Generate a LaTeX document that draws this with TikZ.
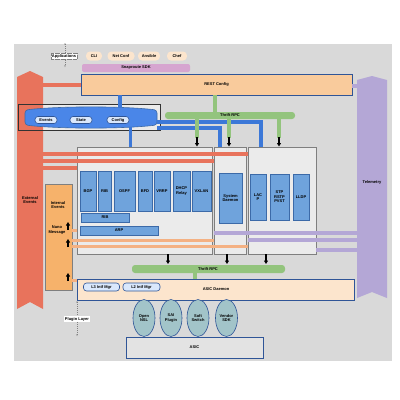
\documentclass[tikz,border=0pt]{standalone}
\usepackage{fontspec}
\setmainfont{Liberation Sans}
\usetikzlibrary{arrows.meta,calc,shapes.geometric}
\definecolor{bgc}{HTML}{D9D9D9}
\definecolor{lbox}{HTML}{EBEBEB}
\definecolor{gbord}{HTML}{7F7F7F}
\definecolor{redc}{HTML}{E8735C}
\definecolor{purc}{HTML}{B4A7D6}
\definecolor{oranc}{HTML}{F6B26B}
\definecolor{oranl}{HTML}{F4B183}
\definecolor{peach}{HTML}{F9CB9C}
\definecolor{paleor}{HTML}{FCE5CD}
\definecolor{pinkc}{HTML}{D6A5D0}
\definecolor{greenc}{HTML}{93C47D}
\definecolor{blkfill}{HTML}{6FA3DC}
\definecolor{blkbord}{HTML}{3C6AA8}
\definecolor{bluel}{HTML}{3C78D8}
\definecolor{blueshape}{HTML}{4A86E8}
\definecolor{dblue}{HTML}{2F5597}
\definecolor{tealc}{HTML}{A2C4C9}
\definecolor{asicc}{HTML}{E3E3E3}
\definecolor{pillb}{HTML}{DAE8FC}
\begin{document}
\begin{tikzpicture}[x=1pt,y=-1pt,
  font=\fontsize{4}{4.6}\selectfont\bfseries,
  every node/.style={inner sep=0pt,outer sep=0pt,align=center},
  bx/.style={anchor=north west},
  grpbox/.style={bx,draw=gbord,fill=lbox,line width=0.6pt},
  blk/.style={bx,draw=blkbord,fill=blkfill,line width=0.5pt},
  toppill/.style={fill=paleor,rounded corners=4pt,minimum height=9},
  innerpill/.style={draw=dblue,fill=pillb,rounded corners=3pt,minimum height=7,line width=0.6pt},
  gbar/.style={bx,fill=greenc,rounded corners=3pt},
  redline/.style={draw=redc,line width=3.5pt},
  purline/.style={draw=purc,line width=4pt},
  orline/.style={draw=oranl,line width=3pt},
  blueline/.style={draw=bluel,line width=3.5pt},
  greenline/.style={draw=greenc,line width=3.5pt},
  blkarrow/.style={draw=black,line width=1.1pt,-{Triangle[length=3.5pt,width=4pt]}},
  dimarrow/.style={draw=gray,dashed,dash pattern=on 1pt off 1pt,line width=0.25pt,{Stealth[length=1.8pt]}-{Stealth[length=1.8pt]}},
  tealell/.style={ellipse,draw=dblue,fill=tealc,minimum width=22,minimum height=37,line width=0.6pt},
]
\useasboundingbox (0,0) rectangle (400,400);
\fill[white] (0,0) rectangle (400,400);
\fill[bgc] (14,44) rectangle (392,361);

% events cluster box (fill)
\node[bx,fill=lbox,minimum width=142,minimum height=26] (evbox) at (18,104) {};

% side columns
\draw[fill=redc,draw=none] (17,77) -- (30,71) -- (43,77) -- (43,309) -- (30,302) -- (17,309) -- cycle;
\node (extev) at (30,200) {External\\Events};
\coordinate (redE) at (43,85);
\draw[fill=purc,draw=none] (357,80) -- (372,76) -- (387,80) -- (387,298) -- (372,292) -- (357,298) -- cycle;
\node (telem) at (372,182) {Telemetry};
\coordinate (purW) at (357,86);

\draw[draw=gbord!40!black,line width=0.6pt] (evbox.north west) rectangle (evbox.south east);

% application layer
\draw[dimarrow] (65,43) -- (65,67);
\node[fill=white,draw=gray,densely dotted,line width=0.2pt,inner sep=1pt] (apps) at (64,56) {Applications};
\node[toppill,minimum width=16] (cli) at (94,56) {CLI};
\node[toppill,minimum width=27] (netconf) at (121,56) {Net Conf};
\node[toppill,minimum width=22] (ansible) at (149,56) {Ansible};
\node[toppill,minimum width=20] (chef) at (177,56) {Chef};
\node[bx,fill=pinkc,rounded corners=2pt,minimum width=108,minimum height=8] (snap) at (82,64) {};
\node at (snap.center) {Snaproute SDK};

% REST config
\node[bx,draw=dblue,fill=peach,line width=1pt,minimum width=271,minimum height=21] (rest) at (81,74) {};
\node at (rest.center) {REST Config};
\draw[redline] (redE) -- (rest.west |- redE);
\draw[purline] (rest.east |- purW) -- (purW);

% group boxes
\node[grpbox,minimum width=135.5,minimum height=107] (box1) at (77,147) {};
\node[grpbox,minimum width=32,minimum height=107] (box2) at (214,147) {};
\node[grpbox,minimum width=68,minimum height=107] (box3) at (248,147) {};

% red lines
\draw[redline] (43,154) -- (box3.west |- 0,154);
\draw[redline] (43,161) -- (box2.west |- 0,161);
\draw[redline] (43,168) -- (box1.west |- 0,168);

% purple lines
\draw[purline] (357,233) -- (box2.west |- 0,233);
\draw[purline] (357,239.5) -- (box3.west |- 0,239.5);
\draw[purline] (357,250) -- (box3.east |- 0,250);

% orange box
\node[bx,draw=gbord,fill=oranc,line width=0.5pt,minimum width=27,minimum height=106] (orbox) at (45,184) {};
\node (intev) at (58,205) {Internal\\Events};
\node (nano) at (57,230) {Nano\\Message};
\draw[orline] (orbox.east |- 0,240) -- (box2.west |- 0,240);
\draw[orline] (orbox.east |- 0,246) -- (box3.west |- 0,246);
\draw[orline] (orbox.east |- 0,230) -- (box1.west |- 0,230);
\draw[orline] (orbox.east |- 0,280) -- (77,280);
\draw[blkarrow] (68,230) -- (68,222);
\draw[blkarrow] (68,247) -- (68,239);
\draw[blkarrow] (68,281) -- (68,273);

% blue shape with events
\draw[fill=blueshape,draw=blkbord,line width=0.6pt,rounded corners=3pt]
  (25,110) .. controls (60,106) and (122,106) .. (157,110) -- (157,125)
  .. controls (122,129) and (60,129) .. (25,125) -- cycle;
\coordinate (esc) at (91,117.5);
\node[innerpill,minimum width=22] (events) at (46,120) {Events};
\node[innerpill,minimum width=22] (state) at (81,120) {State};
\node[innerpill,minimum width=22] (config) at (118,120) {Config};

% blue connectors
\draw[blueline] (rest.south -| 120,0) -- (120,108);
\draw[blueline] (130.5,127) -- (box1.north -| 130.5,0);
\draw[blueline] (157,122) -- (261,122) -- (box3.north -| 261,0);
\draw[blueline] (157,128) -- (220,128) -- (box2.north -| 220,0);

% thrift RPC top
\node[gbar,minimum width=130,minimum height=7] (thrift1) at (165,112) {};
\node at (thrift1.center) {Thrift RPC};
\draw[greenline] (rest.south -| 215,0) -- (thrift1.north -| 215,0);
\foreach \xx in {197,229,279} {
  \draw[greenline] (thrift1.south -| \xx,0) -- (\xx,138);
  \draw[blkarrow] (\xx,137) -- (\xx,146.5);
}

% protocol blocks
\node[blk,minimum width=16,minimum height=40] (bgp) at (80,171) {};
\node at (bgp.center) {BGP};
\node[blk,minimum width=13,minimum height=40] (isis) at (98,171) {};
\node at (isis.center) {RIB};
\node[blk,minimum width=21,minimum height=40] (ospf) at (114,171) {};
\node at (ospf.center) {OSPF};
\node[blk,minimum width=14,minimum height=40] (bfd) at (138,171) {};
\node at (bfd.center) {BFD};
\node[blk,minimum width=16,minimum height=40] (vrrp) at (154,171) {};
\node at (vrrp.center) {VRRP};
\node[blk,minimum width=17,minimum height=40] (dhcp) at (173,171) {};
\node at (dhcp.center) {DHCP\\Relay};
\node[blk,minimum width=19,minimum height=40] (vxlan) at (192,171) {};
\node at (vxlan.center) {VXLAN};
\node[blk,minimum width=48,minimum height=9] (rib) at (81,213) {};
\node at (rib.center) {RIB};
\node[blk,minimum width=78,minimum height=9] (arp) at (80,226) {};
\node at (arp.center) {ARP};
\node[blk,minimum width=23,minimum height=50] (sysd) at (219,173) {};
\node at (sysd.center) {System\\Daemon};
\node[blk,minimum width=16,minimum height=46] (lacp) at (250,174) {};
\node at (lacp.center) {LAC\\P};
\node[blk,minimum width=19,minimum height=46] (stp) at (270,174) {};
\node at (stp.center) {STP\\RSTP\\PVST};
\node[blk,minimum width=16,minimum height=46] (lldp) at (293,174) {};
\node at (lldp.center) {LLDP};

% lower thrift RPC
\node[gbar,minimum width=153,minimum height=8] (thrift2) at (132,265) {};
\node at (208,269) {Thrift RPC};
\draw[blkarrow] (168,254) -- (168,264);
\draw[blkarrow] (227,254) -- (227,264);
\draw[blkarrow] (266,254) -- (266,264);
\draw[greenline] (thrift2.south -| 195,0) -- (195,279.5);

% ASIC daemon
\node[bx,draw=dblue,fill=paleor,line width=1pt,minimum width=277,minimum height=21] (asicd) at (77,279) {};
\node at (216,289) {ASIC Daemon};
\node[innerpill,minimum width=36,minimum height=8] (l3) at (101.5,287) {L3 Intf Mgr};
\node[innerpill,minimum width=37,minimum height=8] (l2) at (141.5,287) {L2 Intf Mgr};

% plugins
\node[tealell] (onsl) at (144,318) {Open\\NSL};
\node[tealell] (sai) at (171,318) {SAI\\Plugin};
\node[tealell] (soft) at (198,318) {Soft\\Switch};
\node[tealell] (vsdk) at (226.5,318) {Vendor\\SDK};

% ASIC
\node[bx,draw=dblue,fill=asicc,line width=1pt,minimum width=137,minimum height=21] (asic) at (126,337) {};
\node at (asic.center) {ASIC};

% plugin layer
\draw[dimarrow] (77,301) -- (77,336);
\node[fill=white,inner sep=0.8pt] (plug) at (77,319) {Plugin Layer};
\end{tikzpicture}
\end{document}
